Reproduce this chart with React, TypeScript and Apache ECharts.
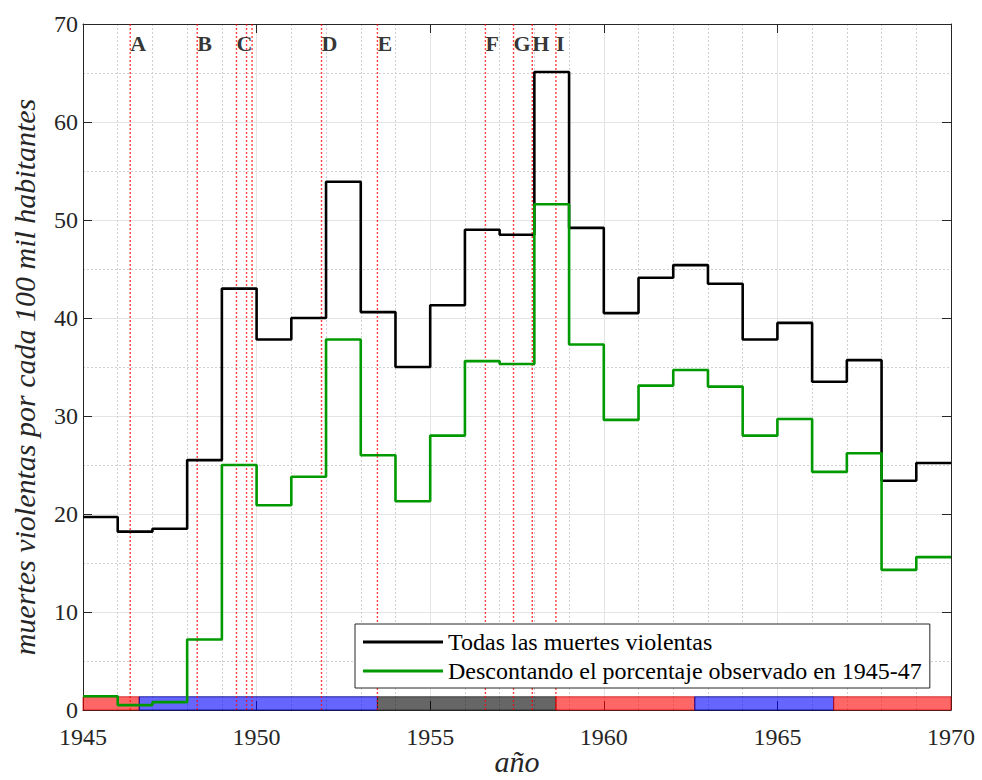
import React, { useEffect, useRef } from "react";
import * as echarts from "echarts";

const years = [1945, 1946, 1947, 1948, 1949, 1950, 1951, 1952, 1953, 1954, 1955, 1956, 1957, 1958, 1959, 1960, 1961, 1962, 1963, 1964, 1965, 1966, 1967, 1968, 1969];
const allDeaths = [19.7, 18.2, 18.5, 25.5, 43.0, 37.8, 40.0, 53.9, 40.6, 35.0, 41.3, 49.0, 48.5, 65.1, 49.2, 40.5, 44.1, 45.4, 43.5, 37.8, 39.5, 33.5, 35.7, 23.4, 25.2];
const discounted = [1.4, 0.5, 0.8, 7.2, 25.0, 20.9, 23.8, 37.8, 26.0, 21.3, 28.0, 35.6, 35.3, 51.6, 37.3, 29.6, 33.1, 34.7, 33.0, 28.0, 29.7, 24.3, 26.2, 14.3, 15.6];
const endYear = 1970;

const seriesNames = ["Todas las muertes violentas", "Descontando el porcentaje observado en 1945-47"];

const eventLines = [1946.36, 1948.29, 1949.42, 1949.71, 1949.87, 1951.87, 1953.48, 1956.59, 1957.4, 1957.94, 1958.62];
const eventLabels = ["A", "B", "C", "D", "E", "F", "G", "H", "I"];
const eventLabelX = [1946.36, 1948.29, 1949.42, 1951.87, 1953.48, 1956.59, 1957.4, 1957.94, 1958.62];
const eventLabelY = 68;

const periodStart = [1945, 1946.62, 1953.48, 1958.62, 1962.62, 1966.62];
const periodEnd = [1946.62, 1953.48, 1958.62, 1962.62, 1966.62, 1970];
const periodParty = ["liberal", "conservador", "militar", "liberal", "conservador", "liberal"];
const periodBarTop = 1.35;

const yMin = 0;
const yMax = 70;

const partyFill: Record<string, string> = {
  liberal: "rgba(255,0,0,0.6)",
  conservador: "rgba(0,0,255,0.6)",
  militar: "rgba(0,0,0,0.6)",
};
const partyBorder: Record<string, string> = {
  liberal: "rgba(200,0,0,0.7)",
  conservador: "rgba(0,0,140,0.8)",
  militar: "rgba(40,40,40,0.8)",
};

const FONT = "'Liberation Serif', 'Times New Roman', Times, serif";
const AXIS_COLOR = "#262626";

function stepData(values: number[]) {
  const d = years.map((y, i) => [y, values[i]]);
  d.push([endYear, values[values.length - 1]]);
  return d;
}

function eventLineData() {
  const d: any[] = [];
  eventLines.forEach((x) => {
    d.push([x, yMin]);
    d.push([x, yMax]);
    d.push("-");
  });
  return d;
}

export default function App() {
  const ref = useRef<HTMLDivElement>(null);
  useEffect(() => {
    if (!ref.current) return;
    const chart = echarts.init(ref.current, null, { renderer: "svg" });
    const option: any = {
      animation: false,
      backgroundColor: "#ffffff",
      textStyle: { fontFamily: FONT },
      grid: { left: 83, right: 31, top: 24, bottom: 70, containLabel: false, outerBoundsMode: "none" },
      legend: {
        orient: "vertical",
        left: 355,
        top: 624,
        data: seriesNames,
        icon: "rect",
        itemWidth: 80,
        itemHeight: 3,
        itemGap: 5,
        padding: [6, 8, 5, 8],
        backgroundColor: "#ffffff",
        borderColor: AXIS_COLOR,
        borderWidth: 1,
        borderRadius: 0,
        textStyle: { fontFamily: FONT, fontSize: 24, color: "#000", lineHeight: 24 },
        selectedMode: false,
      },
      xAxis: [
        {
          type: "value",
          position: "bottom",
          min: 1945,
          max: 1970,
          interval: 5,
          name: "año",
          nameLocation: "middle",
          nameGap: 36,
          nameMoveOverlap: false,
          nameTextStyle: { fontFamily: FONT, fontSize: 30, fontStyle: "italic", color: AXIS_COLOR, lineHeight: 30 },
          axisLine: { show: true, onZero: false, lineStyle: { color: AXIS_COLOR, width: 1 } },
          axisTick: { show: true, inside: true, length: 9, lineStyle: { color: AXIS_COLOR } },
          axisLabel: { fontFamily: FONT, fontSize: 24, color: AXIS_COLOR, margin: 15, formatter: (v: number) => String(v) },
          splitLine: { show: true, lineStyle: { color: "#e4e4e4", width: 1 } },
          minorTick: { show: false, splitNumber: 5 },
          minorSplitLine: { show: true, lineStyle: { color: "#d0d0d0", width: 1, type: [2, 2] } },
        },
        {
          type: "value",
          position: "top",
          min: 1945,
          max: 1970,
          interval: 5,
          axisLine: { show: true, onZero: false, lineStyle: { color: AXIS_COLOR, width: 1 } },
          axisTick: { show: true, inside: true, length: 9, lineStyle: { color: AXIS_COLOR } },
          axisLabel: { show: false },
          splitLine: { show: false },
        },
      ],
      yAxis: [
        {
          type: "value",
          position: "left",
          min: yMin,
          max: yMax,
          interval: 10,
          name: "muertes violentas por cada 100 mil habitantes",
          nameLocation: "middle",
          nameGap: 44,
          nameMoveOverlap: false,
          nameTextStyle: { fontFamily: FONT, fontSize: 30, fontStyle: "italic", color: AXIS_COLOR, padding: [0, 20, 0, 0] },
          axisLine: { show: true, onZero: false, lineStyle: { color: AXIS_COLOR, width: 1 } },
          axisTick: { show: true, inside: true, length: 9, lineStyle: { color: AXIS_COLOR } },
          axisLabel: { fontFamily: FONT, fontSize: 24, color: AXIS_COLOR, margin: 5 },
          splitLine: { show: true, lineStyle: { color: "#e4e4e4", width: 1 } },
          minorTick: { show: false, splitNumber: 2 },
          minorSplitLine: { show: true, lineStyle: { color: "#d0d0d0", width: 1, type: [2, 2] } },
        },
        {
          type: "value",
          position: "right",
          min: yMin,
          max: yMax,
          interval: 10,
          axisLine: { show: true, onZero: false, lineStyle: { color: AXIS_COLOR, width: 1 } },
          axisTick: { show: true, inside: true, length: 9, lineStyle: { color: AXIS_COLOR } },
          axisLabel: { show: false },
          splitLine: { show: false },
        },
      ],
      series: [
        {
          name: "lineas-eventos",
          type: "line",
          xAxisIndex: 0,
          yAxisIndex: 0,
          symbol: "none",
          showSymbol: false,
          connectNulls: false,
          silent: true,
          color: "#ff0000",
          lineStyle: { color: "rgba(255,0,0,0.75)", width: 1.4, type: [2, 2] },
          z: 2,
          data: eventLineData(),
        },
        {
          name: "eventos",
          type: "scatter",
          xAxisIndex: 0,
          yAxisIndex: 0,
          symbolSize: 0,
          silent: true,
          z: 4,
          data: eventLabelX.map((x, i) => ({ value: [x, eventLabelY], name: eventLabels[i] })),
          label: {
            show: true,
            position: "right",
            distance: 0,
            formatter: (p: any) => p.name,
            fontFamily: FONT,
            fontSize: 22,
            fontWeight: "bold",
            color: "#000",
          },
        },
        {
          name: seriesNames[0],
          type: "line",
          step: "end",
          xAxisIndex: 0,
          yAxisIndex: 0,
          showSymbol: false,
          symbol: "none",
          color: "#000000",
          lineStyle: { color: "#000000", width: 2.6 },
          z: 3,
          data: stepData(allDeaths),
        },
        {
          name: seriesNames[1],
          type: "line",
          step: "end",
          xAxisIndex: 0,
          yAxisIndex: 0,
          showSymbol: false,
          symbol: "none",
          color: "#009900",
          lineStyle: { color: "#009900", width: 2.6 },
          z: 3,
          data: stepData(discounted),
        },
        {
          name: "periodos",
          type: "line",
          xAxisIndex: 0,
          yAxisIndex: 0,
          data: [],
          silent: true,
          z: 5,
          markArea: {
            silent: true,
            data: periodStart.map((s, i) => [
              {
                xAxis: s,
                yAxis: 0,
                itemStyle: {
                  color: partyFill[periodParty[i]],
                  borderColor: partyBorder[periodParty[i]],
                  borderWidth: 1,
                },
              },
              { xAxis: periodEnd[i], yAxis: periodBarTop },
            ]),
          },
        },
      ],
    };
    chart.setOption(option);
    return () => chart.dispose();
  }, []);
  return (
    <div
      ref={ref}
      style={{ position: "absolute", left: 0, top: 0, width: 982, height: 780 }}
    />
  );
}
